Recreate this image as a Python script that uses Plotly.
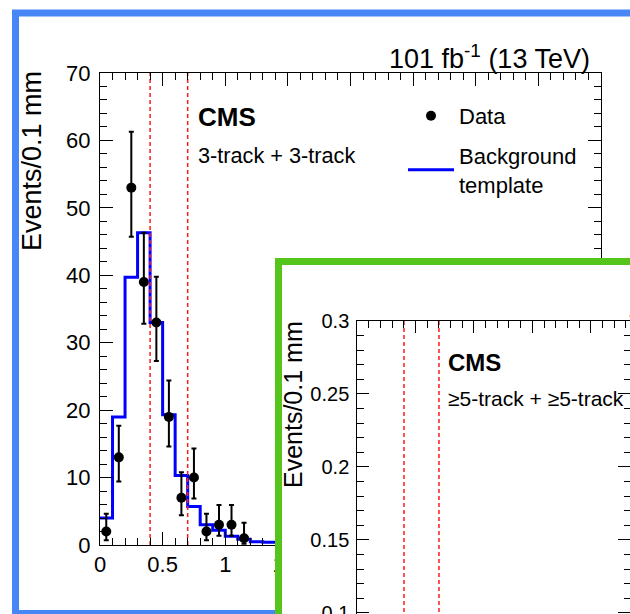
import plotly.graph_objects as go

W, H = 630, 614
FONT = "Liberation Sans, Arial, Helvetica, sans-serif"

# ---------------- data: panel 1 (3-track + 3-track) ----------------
bin_edges = [0.0, 0.1, 0.2, 0.3, 0.4, 0.5, 0.6, 0.7, 0.8, 0.9, 1.0, 1.1, 1.2, 1.3, 1.4]
background = [4.0, 19.0, 39.7, 46.3, 33.0, 19.3, 10.3, 5.7, 3.0, 2.2, 1.3, 0.85, 0.5, 0.4]

data_x = [0.05, 0.15, 0.25, 0.35, 0.45, 0.55, 0.65, 0.75, 0.85, 0.95, 1.05, 1.15]
data_y = [2, 13, 53, 39, 33, 19, 7, 10, 2, 3, 3, 1]
data_hi = [4.64, 17.7, 61.3, 46.3, 39.8, 24.4, 10.8, 14.3, 4.64, 5.92, 5.92, 3.30]
data_lo = [0.71, 9.4, 45.7, 32.8, 27.3, 14.6, 4.4, 6.9, 0.71, 1.37, 1.37, 0.17]

cut_lines = [0.4, 0.7]
y1_range = [0, 70]

# ---------------- panel 2 (>=5-track + >=5-track) ----------------
y2_range = [0.0993, 0.3]
x2_range = [0, 2.337]

blue_frame = "#4786F5"
green_frame = "#55C41B"


def px_x(p):
    return p / W


def px_y(p):
    return 1 - p / H


fig = go.Figure()

# panel 1 traces
fig.add_trace(go.Scatter(
    x=bin_edges, y=background + [background[-1]], mode="lines",
    line=dict(color="#0000FF", width=3, shape="hv"),
    name="Background<br>template", legendrank=2, legendgroup="bkg",
    xaxis="x", yaxis="y"))
for c in cut_lines:
    fig.add_trace(go.Scatter(
        x=[c, c], y=y1_range, mode="lines", showlegend=False,
        line=dict(color="#FF1A1A", width=1.5, dash="4px,3px"),
        xaxis="x", yaxis="y"))
fig.add_trace(go.Scatter(
    x=data_x, y=data_y, mode="markers", name="Data", legendrank=1,
    legendgroup="data",
    marker=dict(color="black", size=10),
    error_y=dict(type="data", symmetric=False,
                 array=[h - v for h, v in zip(data_hi, data_y)],
                 arrayminus=[v - l for v, l in zip(data_y, data_lo)],
                 color="black", thickness=2, width=2.5),
    xaxis="x", yaxis="y"))

# cover subplot (white panel with green frame)
fig.add_trace(go.Scatter(x=[], y=[], showlegend=False, xaxis="x2", yaxis="y2"))

# panel 2 traces
for c in cut_lines:
    fig.add_trace(go.Scatter(
        x=[c, c], y=[0, 0.3], mode="lines", showlegend=False,
        line=dict(color="#FF1A1A", width=1.5, dash="4px,3px"),
        xaxis="x3", yaxis="y3"))

axis_common = dict(showgrid=False, zeroline=False, showline=True, linecolor="black",
                   linewidth=1, ticks="inside", tickcolor="black", tickwidth=1,
                   automargin=False, fixedrange=True,
                   tickfont=dict(family=FONT, size=22, color="black"))

fig.update_layout(
    width=W, height=H, template="none",
    margin=dict(l=0, r=0, t=0, b=0, autoexpand=False),
    paper_bgcolor="white", plot_bgcolor="white",
    font=dict(family=FONT, color="black"),
    xaxis=dict(domain=[px_x(100), px_x(601)], range=[0, 4], anchor="y",
               dtick=0.5, tick0=0, ticklen=13, ticklabelstandoff=0, mirror="ticks",
               minor=dict(dtick=0.1, ticklen=7, ticks="inside", tickcolor="black"),
               **axis_common),
    yaxis=dict(domain=[px_y(545), px_y(73)], range=y1_range, anchor="x",
               dtick=10, tick0=0, ticklen=13, ticklabelstandoff=4, mirror="ticks",
               minor=dict(dtick=2, ticklen=7, ticks="inside", tickcolor="black"),
               **axis_common),
    xaxis2=dict(domain=[px_x(282), 1], range=[0, 1], anchor="y2", side="top",
                showline=True, linecolor=green_frame, linewidth=7, ticks="",
                showticklabels=False, showgrid=False, zeroline=False, fixedrange=True),
    yaxis2=dict(domain=[0, px_y(265)], range=[0, 1], anchor="x2", side="left",
                showline=True, linecolor=green_frame, linewidth=7, ticks="",
                showticklabels=False, showgrid=False, zeroline=False, fixedrange=True),
    xaxis3=dict(domain=[px_x(357.3), 1], range=x2_range, anchor="y3", side="top",
                dtick=0.5, tick0=0, ticklen=12, showticklabels=False,
                minor=dict(dtick=0.1, ticklen=6.5, ticks="inside", tickcolor="black"),
                **axis_common),
    yaxis3=dict(domain=[0, px_y(321)], range=y2_range, anchor="x3",
                dtick=0.05, tick0=0, ticklen=12, ticklabelstandoff=3, mirror="ticks",
                ticklabeloverflow="allow",
                minor=dict(dtick=0.01, ticklen=6.5, ticks="inside", tickcolor="black"),
                **axis_common),
    legend=dict(x=px_x(403), y=px_y(95), xanchor="left", yanchor="top",
                bgcolor="rgba(0,0,0,0)", borderwidth=0, tracegroupgap=8,
                itemwidth=46,
                font=dict(family=FONT, size=22, color="black")),
    shapes=[dict(type="rect", xref="paper", yref="paper", layer="below",
                 x0=px_x(15.5), x1=px_x(700), y0=px_y(613.5), y1=px_y(13),
                 line=dict(color=blue_frame, width=7), fillcolor="rgba(0,0,0,0)")],
)
fig.update_yaxes(tickfont_size=20, selector=dict(anchor="x3"))

ann = [
    dict(text="101 fb<sup>-1</sup> (13 TeV)", x=px_x(592), y=px_y(57),
         xanchor="right", yanchor="middle", font=dict(size=27)),
    dict(text="<b>CMS</b>", x=px_x(196), y=px_y(117.5),
         xanchor="left", yanchor="middle", font=dict(size=26)),
    dict(text="3-track + 3-track", x=px_x(196), y=px_y(155),
         xanchor="left", yanchor="middle", font=dict(size=21.7)),
    dict(text="Events/0.1 mm", x=px_x(32), y=px_y(161), textangle=-90,
         xanchor="center", yanchor="middle", font=dict(size=27)),
    dict(text="101 fb<sup>-1</sup> (13 TeV)", x=px_x(815.6), y=px_y(306),
         xanchor="right", yanchor="middle", font=dict(size=25)),
    dict(text="<b>CMS</b>", x=px_x(446), y=px_y(362.5),
         xanchor="left", yanchor="middle", font=dict(size=24)),
    dict(text="\u22655-track + \u22655-track", x=px_x(446), y=px_y(398),
         xanchor="left", yanchor="middle", font=dict(size=21)),
    dict(text="Events/0.1 mm", x=px_x(293), y=px_y(405), textangle=-90,
         xanchor="center", yanchor="middle", font=dict(size=25)),
]
for a in ann:
    a.update(xref="paper", yref="paper", showarrow=False)
    a["font"].update(family=FONT, color="black")
fig.update_layout(annotations=ann)

fig.write_html("out.html", config={"displayModeBar": False},
               post_script="document.body.style.margin='0px';")
